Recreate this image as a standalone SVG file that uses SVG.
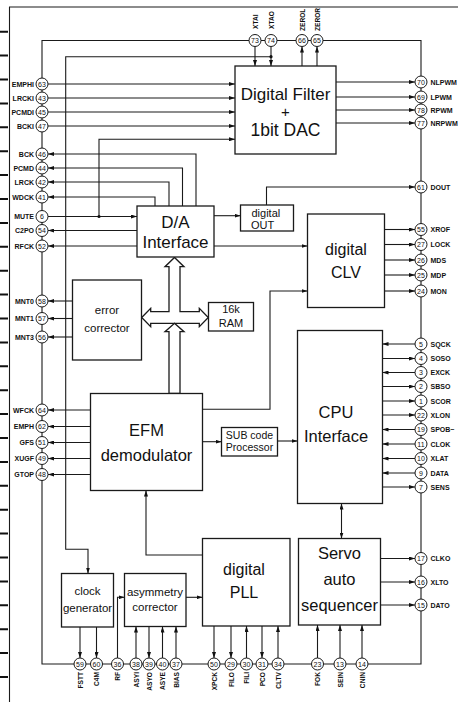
<svg xmlns="http://www.w3.org/2000/svg" width="458" height="702" viewBox="0 0 458 702">
<style>
.ln{fill:none;stroke:#1a1a1a;stroke-width:1.1}
.a{marker-end:url(#m)}
.bx{fill:#fff;stroke:#1a1a1a;stroke-width:1.3}
.pc{fill:#fff;stroke:#1a1a1a;stroke-width:1}
.pn{font-family:"Liberation Sans",Arial,sans-serif;font-size:7px;text-anchor:middle;fill:#111}
.pl{font-family:"Liberation Sans",Arial,sans-serif;font-size:7px;font-weight:bold;fill:#111}
.le{text-anchor:end}
.vl{font-family:"Liberation Sans",Arial,sans-serif;font-size:6.6px;font-weight:bold;fill:#111}
.t{font-family:"Liberation Sans",Arial,sans-serif;text-anchor:middle;fill:#111}
.ts{font-family:"Liberation Sans",Arial,sans-serif;text-anchor:start;fill:#111}
.tk{stroke:#111;stroke-width:2}
</style>
<defs>
<marker id="m" viewBox="0 0 6 4" refX="6" refY="2" markerWidth="6" markerHeight="4" markerUnits="userSpaceOnUse" orient="auto-start-reverse"><path d="M0,0L6,2L0,4z" fill="#111"/></marker>
</defs>
<g id="frame">
<path class="ln" d="M9.5,702V7H458" stroke-width="1.5"/>
<g class="tk">
<path d="M0,31.7H8M0,55.6H8M0,79.5H8M0,103.4H8M0,127.3H8M0,151.2H8M0,175.1H8M0,199H8M0,222.9H8M0,246.8H8M0,270.7H8M0,294.6H8M0,318.5H8M0,342.4H8M0,366.3H8M0,390.2H8M0,414.1H8M0,438H8M0,461.9H8M0,485.8H8M0,509.7H8M0,533.6H8M0,557.5H8M0,581.4H8M0,605.3H8M0,629.2H8M0,653.1H8M0,677H8"/>
</g>
</g>
<g id="connectors">
<path class="ln" d="M42,40.5H421V664H42Z"/>
<path class="ln a" d="M48,84H235"/>
<path class="ln a" d="M48,98H235"/>
<path class="ln a" d="M48,112H235"/>
<path class="ln a" d="M48,126H235"/>
<path class="ln a" d="M196,206V154H48"/>
<path class="ln a" d="M182.5,206V168H48"/>
<path class="ln a" d="M169,206V182H48"/>
<path class="ln a" d="M155,206V197H48"/>
<path class="ln a" d="M48,216.5H137"/>
<path class="ln a" d="M99,216.5V139.3H235"/>
<path class="ln a" d="M137,230.5H48"/>
<path class="ln a" d="M137,246H48"/>
<path class="ln a" d="M72.5,301H48"/>
<path class="ln a" d="M72.5,318.5H48"/>
<path class="ln a" d="M72.5,337H48"/>
<path class="ln a" d="M90.5,410H48"/>
<path class="ln a" d="M90.5,426.5H48"/>
<path class="ln a" d="M90.5,442.5H48"/>
<path class="ln a" d="M90.5,458.5H48"/>
<path class="ln a" d="M90.5,474.5H48"/>
<path class="ln a" d="M336,82H415"/>
<path class="ln a" d="M336,97H415"/>
<path class="ln a" d="M336,110H415"/>
<path class="ln a" d="M336,123H415"/>
<path class="ln a" d="M266.5,205V187H415"/>
<path class="ln a" d="M384.5,229.5H415"/>
<path class="ln a" d="M384.5,244.5H415"/>
<path class="ln a" d="M384.5,260H415"/>
<path class="ln a" d="M384.5,275H415"/>
<path class="ln a" d="M384.5,291H415"/>
<path class="ln a" d="M415,344H382.5"/>
<path class="ln a" d="M382.5,358.5H415"/>
<path class="ln a" d="M415,372.5H382.5"/>
<path class="ln a" d="M382.5,386.5H415"/>
<path class="ln a" d="M382.5,401H415"/>
<path class="ln a" d="M382.5,415H415"/>
<path class="ln a" d="M415,429.5H382.5"/>
<path class="ln a" d="M415,444H382.5"/>
<path class="ln a" d="M415,458.5H382.5"/>
<path class="ln a" d="M415,473H382.5"/>
<path class="ln a" d="M382.5,487H415"/>
<path class="ln a" d="M380.5,558.5H415"/>
<path class="ln a" d="M380.5,582H415"/>
<path class="ln a" d="M380.5,605H415"/>
<path class="ln a" d="M255,46.5V66"/>
<path class="ln a" d="M271,46.5V66"/>
<path class="ln a" d="M271,56.7H65.7V549.3H88V573.5"/>
<path class="ln a" d="M302,66V46.5"/>
<path class="ln a" d="M317,66V46.5"/>
<path class="ln a" d="M214,215.7H240.5"/>
<path class="ln a" d="M214,246H307.5"/>
<path class="ln a" d="M202.5,409.3H270V291H307.5"/>
<path class="ln a" d="M202.5,441.7H221.5"/>
<path class="ln a" d="M277.5,441H297.5"/>
<path class="ln a" d="M341.5,503.5V538.5" marker-start="url(#m)"/>
<path class="ln a" d="M202.5,555H146V490.5"/>
<path class="ln a" d="M186,597.3H202.5"/>
<path class="ln a" d="M117.5,658V597.3H124.5"/>
<path class="ln a" d="M80,627V658"/>
<path class="ln a" d="M96.5,627V658"/>
<path class="ln a" d="M136,658V626.5"/>
<path class="ln a" d="M149,626.5V658"/>
<path class="ln a" d="M162.5,658V626.5"/>
<path class="ln a" d="M176,658V626.5"/>
<path class="ln a" d="M214,626V658"/>
<path class="ln a" d="M231,626V658"/>
<path class="ln a" d="M246.5,658V626"/>
<path class="ln a" d="M262,626V658"/>
<path class="ln a" d="M278,658V626"/>
<path class="ln a" d="M317.5,658V625"/>
<path class="ln a" d="M340,658V625"/>
<path class="ln a" d="M362,658V625"/>
<circle cx="99" cy="216.5" r="1.6" fill="#111"/>
<circle cx="271" cy="56.7" r="1.6" fill="#111"/>
<polygon class="bx" stroke-width="1.1" points="141.7,317.5 150.7,308.3 150.7,311.7 169,311.7 169,266.7 165,266.7 174.5,257.5 184,266.7 180,266.7 180,311.7 199.3,311.7 199.3,308.3 208.3,317.5 199.3,326.7 199.3,323.3 150.7,323.3 150.7,326.7"/>
<polygon class="bx" stroke-width="1.1" points="174.5,323.3 184,331.7 180,331.7 180,393.5 169,393.5 169,331.7 165,331.7"/>
</g>
<g id="dac"><rect class="bx" x="235" y="66" width="101" height="88"/><text class="t" x="285.5" y="100" font-size="17">Digital Filter</text><text class="t" x="285.5" y="116.5" font-size="15">+</text><text class="t" x="285.5" y="136" font-size="17.5">1bit DAC</text></g>
<g id="da"><rect class="bx" x="137" y="206" width="77" height="51"/><text class="t" x="175.5" y="228.3" font-size="17">D/A</text><text class="t" x="175.5" y="248" font-size="17">Interface</text></g>
<g id="dout"><rect class="bx" x="240.5" y="205" width="53" height="26"/><text class="ts" x="251.5" y="216.5" font-size="11">digital</text><text class="ts" x="251" y="228.5" font-size="11">OUT</text></g>
<g id="clv"><rect class="bx" x="307.5" y="214" width="77" height="93.5"/><text class="t" x="346" y="255" font-size="16">digital</text><text class="t" x="346" y="277.5" font-size="16">CLV</text></g>
<g id="ec"><rect class="bx" x="72.5" y="280" width="69" height="80"/><text class="t" x="107" y="314" font-size="11.5">error</text><text class="t" x="107" y="331.5" font-size="11.5">corrector</text></g>
<g id="ram"><rect class="bx" x="208.5" y="302.5" width="45" height="28.5"/><text class="t" x="231" y="312.7" font-size="11">16k</text><text class="t" x="231" y="327.3" font-size="11">RAM</text></g>
<g id="efm"><rect class="bx" x="90.5" y="393.5" width="112" height="97"/><text class="t" x="146.5" y="436" font-size="16.5">EFM</text><text class="t" x="146.5" y="461" font-size="16.5">demodulator</text></g>
<g id="sub"><rect class="bx" x="221.5" y="427.5" width="56" height="28.5"/><text class="t" x="249.5" y="439.3" font-size="10.5">SUB code</text><text class="t" x="249.5" y="450.7" font-size="10.5">Processor</text></g>
<g id="cpu"><rect class="bx" x="297.5" y="330.5" width="85" height="173"/><text class="t" x="336" y="417.7" font-size="16.5">CPU</text><text class="t" x="336" y="441.7" font-size="16.5">Interface</text></g>
<g id="servo"><rect class="bx" x="298.5" y="538.5" width="82" height="86.5"/><text class="t" x="339.5" y="559.3" font-size="16.5">Servo</text><text class="t" x="339.5" y="585" font-size="16.5">auto</text><text class="t" x="339.5" y="611" font-size="16.5">sequencer</text></g>
<g id="pll"><rect class="bx" x="202.5" y="538.5" width="87.5" height="87.5"/><text class="t" x="244" y="575" font-size="16">digital</text><text class="t" x="244" y="598.3" font-size="16">PLL</text></g>
<g id="asym"><rect class="bx" x="124.5" y="573.5" width="61.5" height="53"/><text class="t" x="155" y="596" font-size="11.5">asymmetry</text><text class="t" x="155" y="611" font-size="11.5">corrector</text></g>
<g id="clock"><rect class="bx" x="61.5" y="573.5" width="52" height="53.5"/><text class="t" x="87.5" y="595" font-size="11.5">clock</text><text class="t" x="87.5" y="611.7" font-size="11.5">generator</text></g>
<g id="pins-left">
<g id="p63"><circle class="pc" cx="42" cy="84" r="6"/><text class="pn" x="42" y="86.5">63</text><text class="pl le" x="34" y="86.5">EMPHI</text></g>
<g id="p43"><circle class="pc" cx="42" cy="98" r="6"/><text class="pn" x="42" y="100.5">43</text><text class="pl le" x="34" y="100.5">LRCKI</text></g>
<g id="p45"><circle class="pc" cx="42" cy="112" r="6"/><text class="pn" x="42" y="114.5">45</text><text class="pl le" x="34" y="114.5">PCMDI</text></g>
<g id="p47"><circle class="pc" cx="42" cy="126" r="6"/><text class="pn" x="42" y="128.5">47</text><text class="pl le" x="34" y="128.5">BCKI</text></g>
<g id="p46"><circle class="pc" cx="42" cy="154" r="6"/><text class="pn" x="42" y="156.5">46</text><text class="pl le" x="34" y="156.5">BCK</text></g>
<g id="p44"><circle class="pc" cx="42" cy="168" r="6"/><text class="pn" x="42" y="170.5">44</text><text class="pl le" x="34" y="170.5">PCMD</text></g>
<g id="p42"><circle class="pc" cx="42" cy="182" r="6"/><text class="pn" x="42" y="184.5">42</text><text class="pl le" x="34" y="184.5">LRCK</text></g>
<g id="p41"><circle class="pc" cx="42" cy="197" r="6"/><text class="pn" x="42" y="199.5">41</text><text class="pl le" x="34" y="199.5">WDCK</text></g>
<g id="p6"><circle class="pc" cx="42" cy="216.5" r="6"/><text class="pn" x="42" y="219">6</text><text class="pl le" x="34" y="219">MUTE</text></g>
<g id="p54"><circle class="pc" cx="42" cy="230.5" r="6"/><text class="pn" x="42" y="233">54</text><text class="pl le" x="34" y="233">C2PO</text></g>
<g id="p52"><circle class="pc" cx="42" cy="246" r="6"/><text class="pn" x="42" y="248.5">52</text><text class="pl le" x="34" y="248.5">RFCK</text></g>
<g id="p58"><circle class="pc" cx="42" cy="301" r="6"/><text class="pn" x="42" y="303.5">58</text><text class="pl le" x="34" y="303.5">MNT0</text></g>
<g id="p57"><circle class="pc" cx="42" cy="318.5" r="6"/><text class="pn" x="42" y="321">57</text><text class="pl le" x="34" y="321">MNT1</text></g>
<g id="p56"><circle class="pc" cx="42" cy="337" r="6"/><text class="pn" x="42" y="339.5">56</text><text class="pl le" x="34" y="339.5">MNT3</text></g>
<g id="p64"><circle class="pc" cx="42" cy="410" r="6"/><text class="pn" x="42" y="412.5">64</text><text class="pl le" x="34" y="412.5">WFCK</text></g>
<g id="p62"><circle class="pc" cx="42" cy="426.5" r="6"/><text class="pn" x="42" y="429">62</text><text class="pl le" x="34" y="429">EMPH</text></g>
<g id="p51"><circle class="pc" cx="42" cy="442.5" r="6"/><text class="pn" x="42" y="445">51</text><text class="pl le" x="34" y="445">GFS</text></g>
<g id="p49"><circle class="pc" cx="42" cy="458.5" r="6"/><text class="pn" x="42" y="461">49</text><text class="pl le" x="34" y="461">XUGF</text></g>
<g id="p48"><circle class="pc" cx="42" cy="474.5" r="6"/><text class="pn" x="42" y="477">48</text><text class="pl le" x="34" y="477">GTOP</text></g>
</g>
<g id="pins-right">
<g id="p70"><circle class="pc" cx="421" cy="82" r="6"/><text class="pn" x="421" y="84.5">70</text><text class="pl" x="430.5" y="84.5">NLPWM</text></g>
<g id="p69"><circle class="pc" cx="421" cy="97" r="6"/><text class="pn" x="421" y="99.5">69</text><text class="pl" x="430.5" y="99.5">LPWM</text></g>
<g id="p78"><circle class="pc" cx="421" cy="110" r="6"/><text class="pn" x="421" y="112.5">78</text><text class="pl" x="430.5" y="112.5">RPWM</text></g>
<g id="p77"><circle class="pc" cx="421" cy="123" r="6"/><text class="pn" x="421" y="125.5">77</text><text class="pl" x="430.5" y="125.5">NRPWM</text></g>
<g id="p61"><circle class="pc" cx="421" cy="187" r="6"/><text class="pn" x="421" y="189.5">61</text><text class="pl" x="430.5" y="189.5">DOUT</text></g>
<g id="p55"><circle class="pc" cx="421" cy="229.5" r="6"/><text class="pn" x="421" y="232">55</text><text class="pl" x="430.5" y="232">XROF</text></g>
<g id="p27"><circle class="pc" cx="421" cy="244.5" r="6"/><text class="pn" x="421" y="247">27</text><text class="pl" x="430.5" y="247">LOCK</text></g>
<g id="p26"><circle class="pc" cx="421" cy="260" r="6"/><text class="pn" x="421" y="262.5">26</text><text class="pl" x="430.5" y="262.5">MDS</text></g>
<g id="p25"><circle class="pc" cx="421" cy="275" r="6"/><text class="pn" x="421" y="277.5">25</text><text class="pl" x="430.5" y="277.5">MDP</text></g>
<g id="p24"><circle class="pc" cx="421" cy="291" r="6"/><text class="pn" x="421" y="293.5">24</text><text class="pl" x="430.5" y="293.5">MON</text></g>
<g id="p5"><circle class="pc" cx="421" cy="344" r="6"/><text class="pn" x="421" y="346.5">5</text><text class="pl" x="430.5" y="346.5">SQCK</text></g>
<g id="p4"><circle class="pc" cx="421" cy="358.5" r="6"/><text class="pn" x="421" y="361">4</text><text class="pl" x="430.5" y="361">SOSO</text></g>
<g id="p3"><circle class="pc" cx="421" cy="372.5" r="6"/><text class="pn" x="421" y="375">3</text><text class="pl" x="430.5" y="375">EXCK</text></g>
<g id="p2"><circle class="pc" cx="421" cy="386.5" r="6"/><text class="pn" x="421" y="389">2</text><text class="pl" x="430.5" y="389">SBSO</text></g>
<g id="p1"><circle class="pc" cx="421" cy="401" r="6"/><text class="pn" x="421" y="403.5">1</text><text class="pl" x="430.5" y="403.5">SCOR</text></g>
<g id="p22"><circle class="pc" cx="421" cy="415" r="6"/><text class="pn" x="421" y="417.5">22</text><text class="pl" x="430.5" y="417.5">XLON</text></g>
<g id="p19"><circle class="pc" cx="421" cy="429.5" r="6"/><text class="pn" x="421" y="432">19</text><text class="pl" x="430.5" y="432">SPOB~</text></g>
<g id="p11"><circle class="pc" cx="421" cy="444" r="6"/><text class="pn" x="421" y="446.5">11</text><text class="pl" x="430.5" y="446.5">CLOK</text></g>
<g id="p10"><circle class="pc" cx="421" cy="458.5" r="6"/><text class="pn" x="421" y="461">10</text><text class="pl" x="430.5" y="461">XLAT</text></g>
<g id="p9"><circle class="pc" cx="421" cy="473" r="6"/><text class="pn" x="421" y="475.5">9</text><text class="pl" x="430.5" y="475.5">DATA</text></g>
<g id="p7"><circle class="pc" cx="421" cy="487" r="6"/><text class="pn" x="421" y="489.5">7</text><text class="pl" x="430.5" y="489.5">SENS</text></g>
<g id="p17"><circle class="pc" cx="421" cy="558.5" r="6"/><text class="pn" x="421" y="561">17</text><text class="pl" x="430.5" y="561">CLKO</text></g>
<g id="p16"><circle class="pc" cx="421" cy="582" r="6"/><text class="pn" x="421" y="584.5">16</text><text class="pl" x="430.5" y="584.5">XLTO</text></g>
<g id="p15"><circle class="pc" cx="421" cy="605" r="6"/><text class="pn" x="421" y="607.5">15</text><text class="pl" x="430.5" y="607.5">DATO</text></g>
</g>
<g id="pins-top">
<g id="p73"><circle class="pc" cx="255" cy="40.5" r="6"/><text class="pn" x="255" y="43">73</text><text class="vl" transform="translate(257.5,29) rotate(-90)">XTAI</text></g>
<g id="p74"><circle class="pc" cx="271" cy="40.5" r="6"/><text class="pn" x="271" y="43">74</text><text class="vl" transform="translate(273.5,29) rotate(-90)">XTAO</text></g>
<g id="p66"><circle class="pc" cx="302" cy="40.5" r="6"/><text class="pn" x="302" y="43">66</text><text class="vl" transform="translate(304.5,31) rotate(-90)">ZEROL</text></g>
<g id="p65"><circle class="pc" cx="317" cy="40.5" r="6"/><text class="pn" x="317" y="43">65</text><text class="vl" transform="translate(319.5,31) rotate(-90)">ZEROR</text></g>
</g>
<g id="pins-bottom">
<g id="p59"><circle class="pc" cx="80" cy="664" r="6"/><text class="pn" x="80" y="666.5">59</text><text class="vl le" transform="translate(82.5,672) rotate(-90)">FSTT</text></g>
<g id="p60"><circle class="pc" cx="96.5" cy="664" r="6"/><text class="pn" x="96.5" y="666.5">60</text><text class="vl le" transform="translate(99,672) rotate(-90)">C4M</text></g>
<g id="p36"><circle class="pc" cx="117.5" cy="664" r="6"/><text class="pn" x="117.5" y="666.5">36</text><text class="vl le" transform="translate(120,672) rotate(-90)">RF</text></g>
<g id="p38"><circle class="pc" cx="136" cy="664" r="6"/><text class="pn" x="136" y="666.5">38</text><text class="vl le" transform="translate(138.5,672) rotate(-90)">ASYI</text></g>
<g id="p39"><circle class="pc" cx="149" cy="664" r="6"/><text class="pn" x="149" y="666.5">39</text><text class="vl le" transform="translate(151.5,672) rotate(-90)">ASYO</text></g>
<g id="p40"><circle class="pc" cx="162.5" cy="664" r="6"/><text class="pn" x="162.5" y="666.5">40</text><text class="vl le" transform="translate(165,672) rotate(-90)">ASYE</text></g>
<g id="p37"><circle class="pc" cx="176" cy="664" r="6"/><text class="pn" x="176" y="666.5">37</text><text class="vl le" transform="translate(178.5,672) rotate(-90)">BIAS</text></g>
<g id="p50"><circle class="pc" cx="214" cy="664" r="6"/><text class="pn" x="214" y="666.5">50</text><text class="vl le" transform="translate(216.5,672) rotate(-90)">XPCK</text></g>
<g id="p29"><circle class="pc" cx="231" cy="664" r="6"/><text class="pn" x="231" y="666.5">29</text><text class="vl le" transform="translate(233.5,672) rotate(-90)">FILO</text></g>
<g id="p30"><circle class="pc" cx="246.5" cy="664" r="6"/><text class="pn" x="246.5" y="666.5">30</text><text class="vl le" transform="translate(249,672) rotate(-90)">FILI</text></g>
<g id="p31"><circle class="pc" cx="262" cy="664" r="6"/><text class="pn" x="262" y="666.5">31</text><text class="vl le" transform="translate(264.5,672) rotate(-90)">PCO</text></g>
<g id="p34"><circle class="pc" cx="278" cy="664" r="6"/><text class="pn" x="278" y="666.5">34</text><text class="vl le" transform="translate(280.5,672) rotate(-90)">CLTV</text></g>
<g id="p23"><circle class="pc" cx="317.5" cy="664" r="6"/><text class="pn" x="317.5" y="666.5">23</text><text class="vl le" transform="translate(320,672) rotate(-90)">FOK</text></g>
<g id="p13"><circle class="pc" cx="340" cy="664" r="6"/><text class="pn" x="340" y="666.5">13</text><text class="vl le" transform="translate(342.5,672) rotate(-90)">SEIN</text></g>
<g id="p14"><circle class="pc" cx="362" cy="664" r="6"/><text class="pn" x="362" y="666.5">14</text><text class="vl le" transform="translate(364.5,672) rotate(-90)">CNIN</text></g>
</g>
</svg>
